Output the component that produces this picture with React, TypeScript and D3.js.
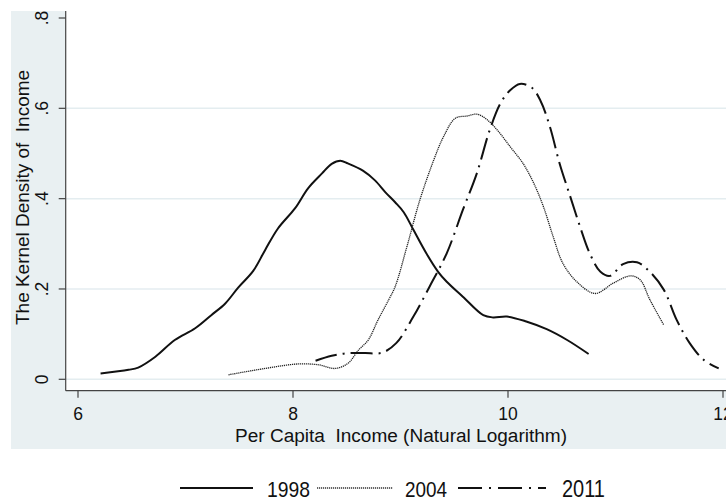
import { scaleLinear, line as d3line, curveCatmullRom } from "d3";

// kernel density estimates
const inc1998 = [6.21, 6.47, 6.56, 6.72, 6.9, 7.09, 7.24, 7.37, 7.49, 7.63, 7.74, 7.86, 8.02, 8.14, 8.27, 8.36, 8.44, 8.51, 8.65, 8.76, 8.86, 8.95, 9.03, 9.12, 9.24, 9.35, 9.43, 9.58, 9.77, 9.86, 9.99, 10.17, 10.36, 10.55, 10.75];
const dens1998 = [0.013, 0.021, 0.026, 0.05, 0.087, 0.113, 0.142, 0.168, 0.203, 0.24, 0.286, 0.334, 0.379, 0.423, 0.456, 0.477, 0.484, 0.478, 0.462, 0.441, 0.414, 0.392, 0.37, 0.331, 0.279, 0.238, 0.216, 0.183, 0.142, 0.137, 0.139, 0.128, 0.111, 0.087, 0.056];

const inc2004 = [7.4, 7.74, 8.05, 8.24, 8.39, 8.51, 8.61, 8.7, 8.79, 8.89, 8.95, 9.06, 9.18, 9.31, 9.4, 9.51, 9.62, 9.71, 9.8, 9.9, 10.02, 10.14, 10.24, 10.33, 10.42, 10.51, 10.64, 10.81, 10.98, 11.14, 11.23, 11.32, 11.45];
const dens2004 = [0.01, 0.024, 0.034, 0.032, 0.024, 0.035, 0.065, 0.087, 0.131, 0.176, 0.205, 0.294, 0.397, 0.486, 0.537, 0.578, 0.583, 0.587, 0.576, 0.552, 0.515, 0.478, 0.434, 0.382, 0.316, 0.257, 0.216, 0.19, 0.213, 0.229, 0.22, 0.176, 0.12];

const inc2011 = [8.21, 8.36, 8.51, 8.67, 8.83, 8.96, 9.12, 9.27, 9.43, 9.58, 9.71, 9.83, 9.93, 10.02, 10.11, 10.22, 10.3, 10.39, 10.48, 10.58, 10.67, 10.76, 10.86, 10.95, 11.07, 11.2, 11.32, 11.45, 11.57, 11.69, 11.82, 11.96];
const dens2011 = [0.041, 0.052, 0.058, 0.058, 0.059, 0.08, 0.139, 0.205, 0.279, 0.375, 0.456, 0.552, 0.611, 0.64, 0.654, 0.646, 0.618, 0.559, 0.478, 0.404, 0.338, 0.279, 0.238, 0.229, 0.255, 0.259, 0.238, 0.198, 0.131, 0.08, 0.043, 0.024];

const xTicks = [6, 8, 10, 12];
const yTicks = [0, 0.2, 0.4, 0.6, 0.8];
const yTickLabels = ["0", ".2", ".4", ".6", ".8"];
const years = ["1998", "2004", "2011"];

const FONT = "'Liberation Sans', Arial, sans-serif";

export default function App() {
  const x = scaleLinear().domain([6, 12]).range([78, 723]);
  const y = scaleLinear().domain([0, 0.8]).range([379.3, 18]);

  const plot = { left: 65.7, top: 11, right: 726, bottom: 390.7 };

  const line = d3line<[number, number]>()
    .x((d) => x(d[0]))
    .y((d) => y(d[1]))
    .curve(curveCatmullRom.alpha(0.5));

  const zip = (a: number[], b: number[]) => a.map((v, i) => [v, b[i]] as [number, number]);

  const series = [
    { pts: zip(inc1998, dens1998), width: 2, dash: undefined, color: "#111" },
    { pts: zip(inc2004, dens2004), width: 1.3, dash: "1.2 0.8", color: "#222" },
    { pts: zip(inc2011, dens2011), width: 2, dash: "22 6 2 6", color: "#111" },
  ];

  // legend layout
  const legendY = 488;
  const legendItems = [
    { x1: 180, x2: 253, tx: 267, tw: 43, fs: 22, width: 2, dash: undefined, color: "#111" },
    { x1: 317, x2: 393, tx: 405, tw: 42, fs: 22, width: 1.5, dash: "1.2 0.8", color: "#333" },
    { x1: 458, x2: 546, tx: 562, tw: 43, fs: 23, width: 2, dash: "24 7 2 7", color: "#111" },
  ];

  return (
    <div style={{ position: "absolute", left: 0, top: 0 }}>
      <svg width={726} height={502} style={{ display: "block", background: "#fff" }}>
        {/* graph region */}
        <rect x={11} y={11} width={715} height={438} fill="#e9f0f2" />
        <rect x={plot.left} y={plot.top} width={plot.right - plot.left} height={plot.bottom - plot.top} fill="#fff" />

        {/* grid */}
        {yTicks.slice(0, 4).map((t) => (
          <line key={t} x1={plot.left} x2={plot.right} y1={y(t)} y2={y(t)} stroke="#e4edf0" strokeWidth={1.5} />
        ))}

        {/* curves */}
        {series.map((s, i) => (
          <path
            key={i}
            d={line(s.pts) ?? undefined}
            fill="none"
            stroke={s.color}
            strokeWidth={s.width}
            strokeDasharray={s.dash}
            strokeLinejoin="round"
          />
        ))}

        {/* axes */}
        <line x1={plot.left} x2={plot.left} y1={plot.top} y2={plot.bottom} stroke="#444" strokeWidth={1.2} />
        <line x1={plot.left} x2={plot.right} y1={plot.bottom} y2={plot.bottom} stroke="#444" strokeWidth={1.2} />

        {yTicks.map((t, i) => (
          <g key={t}>
            <line x1={plot.left - 7} x2={plot.left} y1={y(t)} y2={y(t)} stroke="#444" strokeWidth={1.2} />
            <text
              transform={`translate(48, ${y(t)}) rotate(-90)`}
              textAnchor="middle"
              fontFamily={FONT}
              fontSize={17.5}
              fill="#111"
            >
              {yTickLabels[i]}
            </text>
          </g>
        ))}

        {xTicks.map((t) => (
          <g key={t}>
            <line x1={x(t)} x2={x(t)} y1={plot.bottom} y2={plot.bottom + 7} stroke="#444" strokeWidth={1.2} />
            <text x={x(t)} y={420} textAnchor="middle" fontFamily={FONT} fontSize={17.5} fill="#111">
              {t}
            </text>
          </g>
        ))}

        <text
          x={401}
          y={442}
          textAnchor="middle"
          fontFamily={FONT}
          fontSize={18}
          fill="#111"
          textLength={332}
          lengthAdjust="spacingAndGlyphs"
          style={{ whiteSpace: "pre" }}
        >
          {"Per Capita  Income (Natural Logarithm)"}
        </text>
        <text
          transform="translate(29, 197.5) rotate(-90)"
          textAnchor="middle"
          fontFamily={FONT}
          fontSize={18}
          fill="#111"
          textLength={255}
          lengthAdjust="spacingAndGlyphs"
          style={{ whiteSpace: "pre" }}
        >
          {"The Kernel Density of  Income"}
        </text>

        {/* legend */}
        {legendItems.map((it, i) => (
          <g key={years[i]}>
            <line
              x1={it.x1}
              x2={it.x2}
              y1={legendY}
              y2={legendY}
              stroke={it.color}
              strokeWidth={it.width}
              strokeDasharray={it.dash}
            />
            <text
              x={it.tx}
              y={497}
              fontFamily={FONT}
              fontSize={it.fs}
              fill="#111"
              textLength={it.tw}
              lengthAdjust="spacingAndGlyphs"
            >
              {years[i]}
            </text>
          </g>
        ))}
      </svg>
    </div>
  );
}
